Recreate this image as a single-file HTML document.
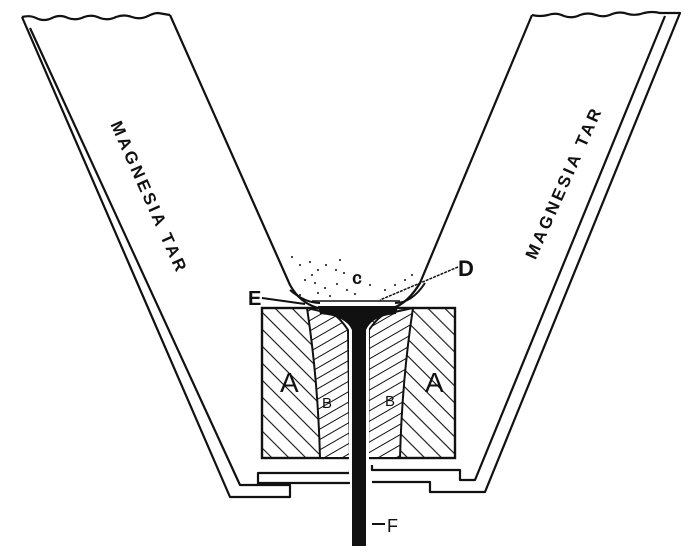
<!DOCTYPE html>
<html><head><meta charset="utf-8"><style>
html,body{margin:0;padding:0;background:#fff;width:700px;height:558px;overflow:hidden}
svg{display:block}
text{font-family:"Liberation Sans",sans-serif;fill:#111}
</style></head><body>
<svg width="700" height="558" viewBox="0 0 700 558" xmlns="http://www.w3.org/2000/svg">
<defs>
<pattern id="hA" patternUnits="userSpaceOnUse" width="12" height="12" patternTransform="rotate(-45)">
<line x1="0" y1="0" x2="0" y2="12" stroke="#111" stroke-width="2.2"/></pattern>
<pattern id="hB" patternUnits="userSpaceOnUse" width="9" height="9" patternTransform="rotate(60)">
<line x1="0" y1="0" x2="0" y2="9" stroke="#111" stroke-width="2"/></pattern>
</defs>
<g fill="none" stroke="#111" stroke-width="2.2" stroke-linejoin="round">
<path d="M22,17 L230,497 L290,497 L290,485 L258,485 L258,473 L350,473 L350,470"/>
<path d="M30,28 L240,485 L258,485"/>
<path d="M258,483 L350,483"/>
<path d="M22,17 q8,-2 14,1 q8,4 16,0 q8,-4 16,0 q8,3 16,-1 q8,-3 16,1 q8,3 16,-1 q8,-3 16,0 q8,3 16,-1 q6,-3 10,-3 L170,15"/>
<path d="M170,15 L290,285 Q300,303 318,308"/>
<path d="M532,15 q8,2 16,0 q8,-3 16,1 q8,3 16,-1 q8,-3 16,0 q8,3 16,-1 q8,-3 16,0 q8,2 16,-1 q8,-2 16,0 L680,13 L485,492 L430,492 L430,482 L372,482"/>
<path d="M665,16 L475,480 L460,480 L460,470 L372,470 L372,465"/>
<path d="M532,15 L420,283 Q408,303 393,308"/>
</g>
<rect x="262" y="308" width="193" height="150" fill="url(#hA)" stroke="#111" stroke-width="2.4"/>
<path d="M307,308 Q318,380 320,458 L350,458 L348,330 Q340,318 333,314 Z" fill="#fff"/>
<path d="M307,308 Q318,380 320,458 L350,458 L348,330 Q340,318 333,314 Z" fill="url(#hB)" stroke="#111" stroke-width="2"/>
<path d="M413,308 Q402,380 400,458 L368,458 L369,330 Q377,318 385,314 Z" fill="#fff"/>
<path d="M413,308 Q402,380 400,458 L368,458 L369,330 Q377,318 385,314 Z" fill="url(#hB)" stroke="#111" stroke-width="2"/>
<rect x="349" y="318" width="20" height="160" fill="#fff"/>
<path d="M318,306 L398,306 L396,314 Q372,316 366,330 L366,546 L352,546 L352,330 Q346,316 320,314 Z" fill="#111"/>
<line x1="312" y1="301" x2="400" y2="301" stroke="#111" stroke-width="1.5"/>
<path d="M290,290 Q305,303 320,303 M395,303 Q412,303 425,283" fill="none" stroke="#111" stroke-width="2"/>
<g fill="#111">
<circle cx="292" cy="257" r="1"/><circle cx="300" cy="265" r="1"/><circle cx="310" cy="262" r="1"/><circle cx="318" cy="270" r="1"/><circle cx="326" cy="265" r="1"/><circle cx="336" cy="270" r="1"/><circle cx="344" cy="273" r="1"/><circle cx="305" cy="280" r="1"/><circle cx="315" cy="283" r="1"/><circle cx="325" cy="288" r="1"/><circle cx="337" cy="284" r="1"/><circle cx="347" cy="290" r="1"/><circle cx="355" cy="294" r="1"/><circle cx="318" cy="293" r="1"/><circle cx="330" cy="296" r="1"/><circle cx="370" cy="285" r="1"/><circle cx="385" cy="290" r="1"/><circle cx="395" cy="285" r="1"/><circle cx="405" cy="280" r="1"/><circle cx="412" cy="275" r="1"/><circle cx="300" cy="295" r="1"/><circle cx="312" cy="275" r="1"/><circle cx="340" cy="260" r="1"/><circle cx="360" cy="278" r="1"/>
</g>
<g stroke="#111" fill="none">
<line x1="262" y1="298" x2="305" y2="304" stroke-width="2"/>
<line x1="458" y1="267" x2="380" y2="300" stroke-width="1.5" stroke-dasharray="3,1"/>
<line x1="372" y1="524" x2="385" y2="524" stroke-width="2"/>
</g>
<text x="248" y="305" font-size="20" font-weight="bold">E</text>
<text x="458" y="276" font-size="22" font-weight="bold">D</text>
<text x="352" y="284" font-size="18" font-weight="bold">c</text>
<text x="387" y="532" font-size="18">F</text>
<text x="280" y="392" font-size="28">A</text>
<text x="425" y="392" font-size="28">A</text>
<text x="322" y="408" font-size="15">B</text>
<text x="385" y="406" font-size="15">B</text>
<text transform="translate(148,198) rotate(66)" text-anchor="middle" font-size="17" font-weight="bold" dominant-baseline="middle" letter-spacing="3">MAGNESIA TAR</text>
<text transform="translate(565,183) rotate(-66)" text-anchor="middle" font-size="17" font-weight="bold" dominant-baseline="middle" letter-spacing="3">MAGNESIA TAR</text>
</svg>
</body></html>
